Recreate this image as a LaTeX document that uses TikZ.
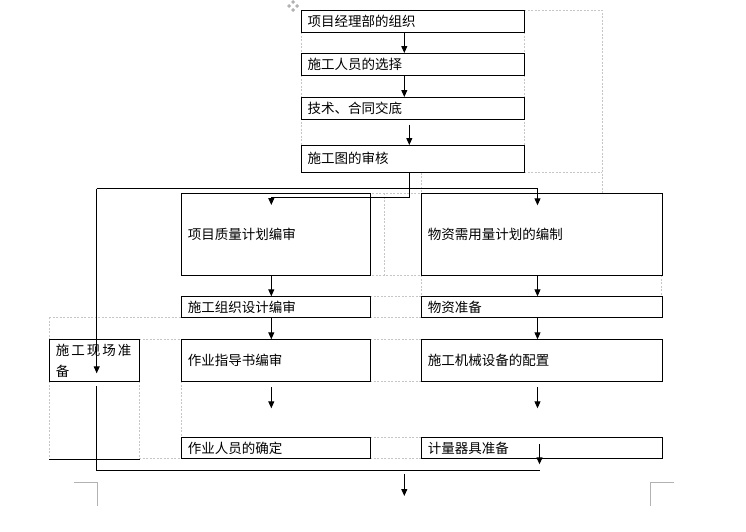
\documentclass[tikz,border=0pt]{standalone}
\usepackage{fontspec}
\newfontfamily\cjk{Noto Sans CJK SC}
\usetikzlibrary{arrows.meta,calc}
\tikzset{
	box/.style={draw, line width=1pt, anchor=north west, inner xsep=6pt, inner ysep=0pt, align=left, font=\cjk\fontsize{13.5}{16}\selectfont},
	topbox/.style={box, text width=211pt},
	leftbox/.style={box, text width=177pt},
	rightbox/.style={box, text width=228.4pt},
	link/.style={line width=1pt, -{Triangle[length=7pt,width=6pt]}},
	wire/.style={line width=1pt},
	cellline/.style={gray!45, line width=0.7pt, dash pattern=on 2pt off 1.5pt},
	edgemark/.style={gray!60, line width=1pt}
}

\begin{document}
\begin{tikzpicture}[x=1pt, y=-1pt]
		%%%%% START %%%%%
		\useasboundingbox (0,0) rectangle (746,531);
		
		\foreach \a/\b in {32/53, 75/97, 118/145}
			\draw[cellline] (301,\a) -- (301,\b) (524,\a) -- (524,\b);
		\draw[cellline] (524,10) -- (602,10) -- (602,193.3);
		\draw[cellline] (524,172.5) -- (602,172.5);
		\draw[cellline] (421.3,172.5) -- (421.3,193.3);
		\draw[cellline] (368.7,193.3) -- (421.3,193.3);
		\draw[cellline] (384.3,193.3) -- (384.3,275.3);
		\draw[cellline] (368.7,275.3) -- (421.3,275.3);
		\draw[cellline] (421.3,275.3) -- (421.3,296.3) (661.7,275.3) -- (661.7,296.3);
		\draw[cellline] (370.3,296.3) -- (421.3,296.3);
		\draw[cellline] (49.3,317) -- (181.3,317) (370.3,317) -- (421.3,317);
		\draw[cellline] (49.3,317) -- (49.3,339.3) (49.3,381.3) -- (49.3,458.3);
		\draw[cellline] (139.3,381.3) -- (139.3,458.3) (181.3,381.3) -- (181.3,437.3);
		\draw[cellline] (139.3,339.3) -- (181.3,339.3) (139.3,458.3) -- (181.3,458.3);
		\foreach \y in {339.3, 381.3, 437.3, 458.3}
			\draw[cellline] (370.3,\y) -- (421.3,\y);
		
		\foreach \px/\py in {293/2, 289/6, 297/6, 293/10}
			\fill[gray!60] (\px-2,\py) -- ++(2,-2) -- ++(2,2) -- ++(-2,2) -- cycle;
		
		\node[topbox, minimum height=22pt] (org) at (301,10) {项目经理部的组织};
		\node[topbox, minimum height=22pt] (staff) at (301,53) {施工人员的选择};
		\node[topbox, minimum height=21.5pt] (tech) at (301,97) {技术、合同交底};
		\node[topbox, minimum height=27pt] (drawing) at (301,145) {\raisebox{2pt}{施工图的审核}};
		
		\node[leftbox, minimum height=82pt] (quality) at (181.3,193.3) {项目质量计划编审};
		\node[rightbox, minimum height=82pt] (demand) at (421.3,193.3) {物资需用量计划的编制};
		\node[leftbox, minimum height=21pt] (design) at (181.3,296.3) {施工组织设计编审};
		\node[rightbox, minimum height=21pt] (matprep) at (421.3,296.3) {物资准备};
		\node[leftbox, minimum height=42pt] (guide) at (181.3,339.3) {作业指导书编审};
		\node[rightbox, minimum height=42pt] (machine) at (421.3,339.3) {施工机械设备的配置};
		\node[leftbox, minimum height=21pt] (workers) at (181.3,437.3) {作业人员的确定};
		\node[rightbox, minimum height=21pt] (gauge) at (421.3,437.3) {计量器具准备};
		\node[box, text width=78pt, minimum height=42pt, font=\cjk\fontsize{13.5}{21.5}\selectfont] (site) at (49.3,339.3) {施\kern2pt 工\kern2pt 现\kern2pt 场\kern2pt 准\\备};
		
		\coordinate (c1) at (404.3,0);
		\coordinate (c2) at (409.3,0);
		\coordinate (cl) at (271.3,0);
		\coordinate (cr) at (537.5,0);
		\coordinate (bus) at (96.7,188.5);
		\coordinate (turn) at (271.3,197);
		\coordinate (sink) at (539.5,470);
		\coordinate (outlet) at (404.3,474);
		
		\draw[link] (org.south -| c1) -- (staff.north -| c1);
		\draw[link] (staff.south -| c1) -- (tech.north -| c1);
		\draw[link] ($(tech.south -| c2)+(0,5)$) -- (drawing.north -| c2);
		\draw[link] (drawing.south -| c2) |- (turn) -- ++(0,8);
		\draw[link] (bus) -| ($(demand.north -| cr)+(0,12)$);
		\draw[link] (bus) -- ($(site.south -| bus)+(0,-9)$);
		
		\draw[link] (quality.south -| cl) -- (design.north -| cl);
		\draw[link] (design.south -| cl) -- (guide.north -| cl);
		\draw[link] ($(guide.south -| cl)+(0,5)$) -- ++(0,21);
		\draw[link] (demand.south -| cr) -- (matprep.north -| cr);
		\draw[link] (matprep.south -| cr) -- (machine.north -| cr);
		\draw[link] ($(machine.south -| cr)+(0,5)$) -- ++(0,21);
		\draw[link] ($(gauge.north -| sink)+(0,7)$) -- ++(0,20);
		
		\draw[wire] ($(site.south -| bus)+(0,4)$) |- (sink);
		\draw[wire] (site.west |- workers.south) -- (site.east |- workers.south);
		\draw[link] (outlet) -- ++(0,22);
		
		\draw[edgemark] (74,482.3) -- (97.3,482.3) -- (97.3,506);
		\draw[edgemark] (674,482.3) -- (650,482.3) -- (650,506);
		
		%%%%% END %%%%%
	\end{tikzpicture}
\end{document}
